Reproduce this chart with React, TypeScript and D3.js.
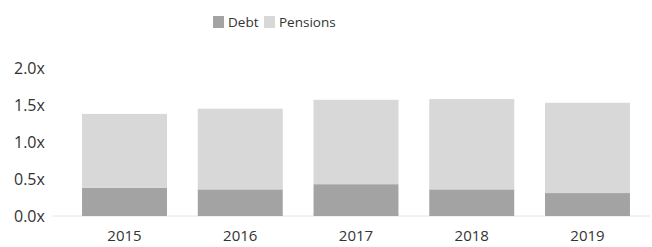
import React from "react";
import * as d3 from "d3";

const years = ["2015", "2016", "2017", "2018", "2019"];
const debt = [0.38, 0.36, 0.43, 0.36, 0.31];
const pensions = [1.0, 1.09, 1.14, 1.22, 1.22];
const yTicks = [0, 0.5, 1.0, 1.5, 2.0];
const seriesNames = ["Debt", "Pensions"];
const colors = ["#a3a3a3", "#d8d8d8"];

export default function App() {
  const W = 652, H = 247;
  const x = d3.scaleBand().domain(years).range([53.1, 658.9]).paddingInner(0.266).paddingOuter(0.25);
  const y = d3.scaleLinear().domain([0, 2]).range([216, 68]);
  const rows = years.map((yr, i) => ({ year: yr, Debt: debt[i], Pensions: pensions[i] }));
  const stacked = d3.stack<any>().keys(seriesNames)(rows);
  const font = "'Open Sans', sans-serif";
  return (
    <svg width={W} height={H} style={{ position: "absolute", left: 0, top: 0, background: "#fff" }} fontFamily={font}>
      <line x1={52} x2={650} y1={y(0)} y2={y(0)} stroke="#e6e6e6" strokeWidth={1} />
      {yTicks.map((t) => (
        <text key={t} x={14} y={y(t)} dy="0.35em" fontSize={16} fill="#333">
          {d3.format(".1f")(t) + "x"}
        </text>
      ))}
      {stacked.map((s, si) =>
        s.map((d, i) => (
          <rect
            key={si + "-" + i}
            x={x(years[i])}
            width={x.bandwidth()}
            y={y(d[1])}
            height={y(d[0]) - y(d[1])}
            fill={colors[si]}
          />
        ))
      )}
      {years.map((yr) => (
        <text key={yr} x={(x(yr) as number) + x.bandwidth() / 2} y={236} dy="0.35em" textAnchor="middle" fontSize={15} fill="#333">
          {yr}
        </text>
      ))}
      <g>
        <rect x={213} y={16} width={11} height={12} fill={colors[0]} />
        <text x={228} y={22} dy="0.35em" fontSize={13.5} fill="#333">{seriesNames[0]}</text>
        <rect x={264} y={16} width={11} height={12} fill={colors[1]} />
        <text x={279} y={22} dy="0.35em" fontSize={13.5} fill="#333">{seriesNames[1]}</text>
      </g>
    </svg>
  );
}
